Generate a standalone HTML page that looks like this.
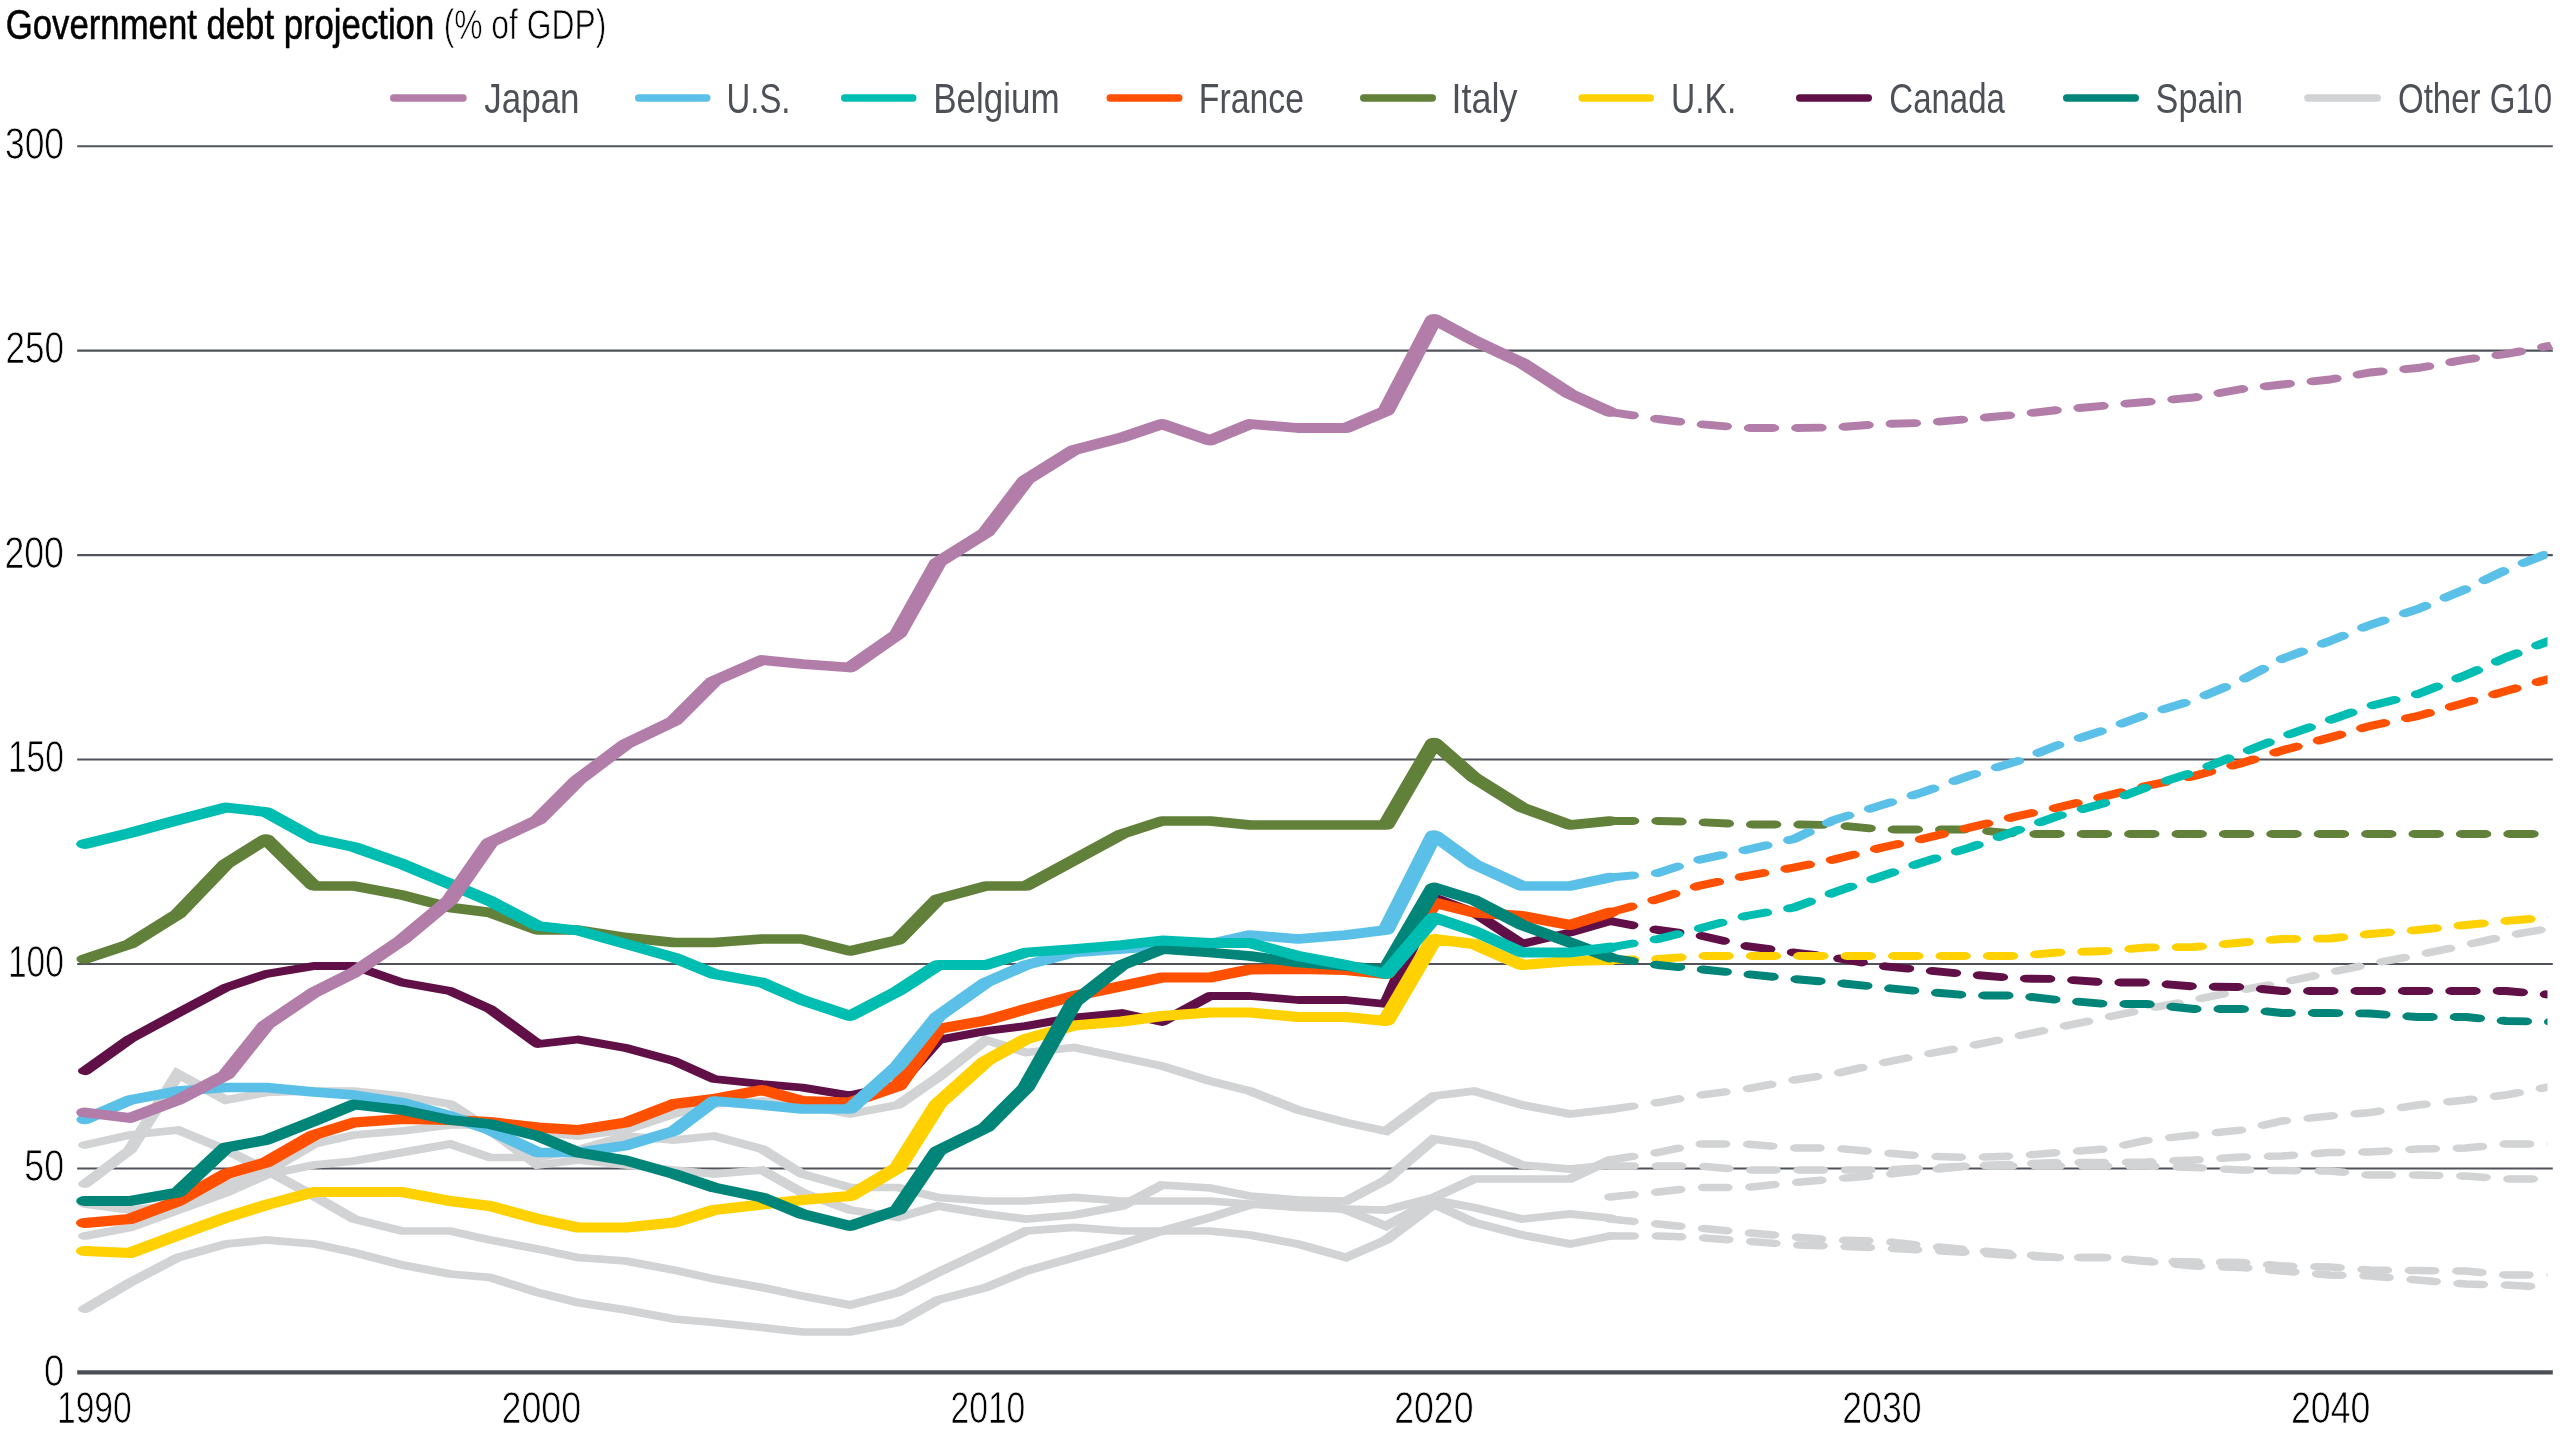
<!DOCTYPE html>
<html><head><meta charset="utf-8"><title>Government debt projection</title>
<style>
html,body{margin:0;padding:0;background:#fff;}
body{width:2560px;height:1440px;overflow:hidden;font-family:"Liberation Sans",sans-serif;}
svg{display:block;position:absolute;left:0;top:0;}
text{font-family:"Liberation Sans",sans-serif;}
</style></head><body>
<svg width="2560" height="1440" viewBox="0 0 2560 1440">
<defs><clipPath id="cp"><rect x="0" y="100" width="2547.5" height="1300"/></clipPath>
<clipPath id="cpj"><polygon points="0,100 2527.7,300 2554,350 2554,1400 0,1400"/></clipPath></defs>

<line x1="77.2" x2="2552.8" y1="146.2" y2="146.2" stroke="#50545a" stroke-width="2.1"/>
<line x1="77.2" x2="2552.8" y1="350.65" y2="350.65" stroke="#50545a" stroke-width="2.1"/>
<line x1="77.2" x2="2552.8" y1="555.1" y2="555.1" stroke="#50545a" stroke-width="2.1"/>
<line x1="77.2" x2="2552.8" y1="759.55" y2="759.55" stroke="#50545a" stroke-width="2.1"/>
<line x1="77.2" x2="2552.8" y1="964.0" y2="964.0" stroke="#50545a" stroke-width="2.1"/>
<line x1="77.2" x2="2552.8" y1="1168.45" y2="1168.45" stroke="#50545a" stroke-width="2.1"/>
<g clip-path="url(#cp)" fill="none" stroke-linecap="round" stroke-linejoin="round">
<polyline transform="scale(1.55,1)" points="1038.71,1236.00 1069.68,1236.00 1095.48,1237.50 1126.45,1241.00 1157.42,1245.00 1183.23,1246.00 1214.19,1248.00 1240.00,1250.00 1270.97,1252.50 1301.94,1256.00 1327.74,1257.50 1358.71,1257.50 1384.52,1261.50 1415.48,1266.00 1446.45,1267.50 1472.26,1271.00 1503.23,1275.00 1529.03,1276.00 1560.00,1280.00 1590.97,1284.00 1616.77,1285.00 1647.74,1287.50" stroke="#d1d3d4" stroke-width="7.5" stroke-dasharray="15 15.58" stroke-linejoin="miter" stroke-miterlimit="6"/>
<polyline transform="scale(1.8,1)" points="47.22,1145.00 72.22,1135.00 98.89,1130.00 125.56,1150.00 147.78,1170.00 174.44,1196.00 196.67,1219.00 223.33,1231.00 250.00,1231.00 272.22,1240.00 298.89,1249.00 321.11,1257.50 347.78,1261.00 374.44,1270.00 396.67,1279.00 423.33,1287.50 445.56,1296.00 472.22,1305.00 498.89,1292.50 521.11,1272.50 547.78,1250.00 570.00,1231.00 596.67,1227.50 623.33,1231.00 645.56,1231.00 672.22,1231.00 694.44,1235.00 721.11,1244.00 747.78,1257.50 770.00,1240.00 796.67,1204.00 818.89,1222.50 845.56,1235.00 872.22,1244.00 894.44,1236.00" stroke="#d1d3d4" stroke-width="7.7" stroke-linejoin="miter" stroke-miterlimit="6"/>
<polyline transform="scale(1.55,1)" points="1038.71,1219.00 1069.68,1224.00 1095.48,1228.00 1126.45,1232.50 1157.42,1237.00 1183.23,1240.00 1214.19,1241.00 1240.00,1245.50 1270.97,1250.00 1301.94,1254.00 1327.74,1257.50 1358.71,1257.50 1384.52,1261.00 1415.48,1262.00 1446.45,1262.50 1472.26,1266.00 1503.23,1267.00 1529.03,1270.00 1560.00,1270.50 1590.97,1271.00 1616.77,1275.00 1647.74,1275.00" stroke="#d1d3d4" stroke-width="7.5" stroke-dasharray="15 15.58" stroke-linejoin="miter" stroke-miterlimit="6"/>
<polyline transform="scale(1.8,1)" points="47.22,1184.00 72.22,1150.00 98.89,1074.00 125.56,1100.00 147.78,1092.50 174.44,1091.00 196.67,1091.00 223.33,1096.00 250.00,1104.00 272.22,1130.00 298.89,1165.00 321.11,1160.00 347.78,1165.00 374.44,1170.00 396.67,1174.00 423.33,1170.00 445.56,1192.50 472.22,1210.00 498.89,1217.50 521.11,1206.00 547.78,1214.00 570.00,1219.00 596.67,1215.00 623.33,1206.00 645.56,1185.00 672.22,1188.00 694.44,1196.00 721.11,1200.00 747.78,1210.00 770.00,1226.00 796.67,1200.00 818.89,1207.50 845.56,1219.00 872.22,1214.00 894.44,1218.00" stroke="#d1d3d4" stroke-width="7.7" stroke-linejoin="miter" stroke-miterlimit="6"/>
<polyline transform="scale(1.55,1)" points="1038.71,1109.50 1069.68,1102.50 1095.48,1095.50 1126.45,1089.00 1157.42,1080.00 1183.23,1074.00 1214.19,1063.00 1240.00,1055.00 1270.97,1046.00 1301.94,1036.00 1327.74,1027.50 1358.71,1017.50 1384.52,1009.00 1415.48,1000.00 1446.45,990.00 1472.26,982.50 1503.23,972.50 1529.03,964.00 1560.00,955.00 1590.97,945.00 1616.77,936.00 1647.74,927.50" stroke="#d1d3d4" stroke-width="7.5" stroke-dasharray="15 15.58" stroke-linejoin="miter" stroke-miterlimit="6"/>
<polyline transform="scale(1.8,1)" points="47.22,1204.00 72.22,1210.00 98.89,1205.00 125.56,1185.00 147.78,1172.00 174.44,1144.00 196.67,1135.00 223.33,1131.00 250.00,1125.00 272.22,1125.00 298.89,1132.00 321.11,1136.00 347.78,1130.00 374.44,1114.00 396.67,1104.00 423.33,1101.00 445.56,1105.00 472.22,1114.00 498.89,1105.00 521.11,1077.50 547.78,1040.00 570.00,1052.50 596.67,1047.50 623.33,1057.50 645.56,1066.00 672.22,1081.00 694.44,1091.00 721.11,1110.00 747.78,1122.50 770.00,1131.00 796.67,1096.00 818.89,1091.00 845.56,1105.00 872.22,1114.00 894.44,1109.50" stroke="#d1d3d4" stroke-width="7.7" stroke-linejoin="miter" stroke-miterlimit="6"/>
<polyline transform="scale(1.55,1)" points="1038.71,1160.00 1069.68,1152.50 1095.48,1144.00 1126.45,1144.00 1157.42,1148.00 1183.23,1148.00 1214.19,1152.50 1240.00,1156.00 1270.97,1157.50 1301.94,1156.00 1327.74,1152.50 1358.71,1149.00 1384.52,1140.50 1415.48,1135.00 1446.45,1130.00 1472.26,1121.00 1503.23,1116.00 1529.03,1112.50 1560.00,1105.00 1590.97,1100.00 1616.77,1095.00 1647.74,1086.00" stroke="#d1d3d4" stroke-width="7.5" stroke-dasharray="15 15.58" stroke-linejoin="miter" stroke-miterlimit="6"/>
<polyline transform="scale(1.8,1)" points="47.22,1236.00 72.22,1227.50 98.89,1210.00 125.56,1192.50 147.78,1175.00 174.44,1165.00 196.67,1161.00 223.33,1152.50 250.00,1144.00 272.22,1157.50 298.89,1157.50 321.11,1150.00 347.78,1136.00 374.44,1140.00 396.67,1136.00 423.33,1149.00 445.56,1174.00 472.22,1187.50 498.89,1187.50 521.11,1197.50 547.78,1201.00 570.00,1201.00 596.67,1197.50 623.33,1201.00 645.56,1201.00 672.22,1201.00 694.44,1204.00 721.11,1207.50 747.78,1209.00 770.00,1210.00 796.67,1197.50 818.89,1179.00 845.56,1179.00 872.22,1179.00 894.44,1160.00" stroke="#d1d3d4" stroke-width="7.7" stroke-linejoin="miter" stroke-miterlimit="6"/>
<polyline transform="scale(1.55,1)" points="1038.71,1166.00 1069.68,1166.00 1095.48,1166.00 1126.45,1170.00 1157.42,1170.00 1183.23,1170.00 1214.19,1170.00 1240.00,1168.00 1270.97,1166.00 1301.94,1166.00 1327.74,1166.00 1358.71,1166.00 1384.52,1166.00 1415.48,1167.50 1446.45,1170.00 1472.26,1170.50 1503.23,1171.00 1529.03,1175.00 1560.00,1175.00 1590.97,1176.00 1616.77,1179.00 1647.74,1179.00" stroke="#d1d3d4" stroke-width="7.5" stroke-dasharray="15 15.58" stroke-linejoin="miter" stroke-miterlimit="6"/>
<polyline transform="scale(1.8,1)" points="47.22,1309.00 72.22,1282.50 98.89,1257.50 125.56,1244.00 147.78,1240.00 174.44,1244.00 196.67,1252.50 223.33,1265.00 250.00,1274.00 272.22,1277.50 298.89,1292.50 321.11,1302.50 347.78,1310.00 374.44,1319.00 396.67,1322.50 423.33,1327.50 445.56,1332.00 472.22,1332.00 498.89,1322.50 521.11,1300.00 547.78,1287.50 570.00,1271.00 596.67,1257.50 623.33,1244.00 645.56,1231.00 672.22,1217.50 694.44,1205.00 721.11,1200.00 747.78,1201.00 770.00,1180.00 796.67,1139.00 818.89,1145.00 845.56,1165.00 872.22,1169.00 894.44,1165.00" stroke="#d1d3d4" stroke-width="7.7" stroke-linejoin="miter" stroke-miterlimit="6"/>
<polyline transform="scale(1.55,1)" points="1038.71,1197.00 1069.68,1192.00 1095.48,1187.50 1126.45,1187.50 1157.42,1182.50 1183.23,1179.00 1214.19,1175.00 1240.00,1170.50 1270.97,1166.00 1301.94,1164.00 1327.74,1162.50 1358.71,1162.50 1384.52,1162.00 1415.48,1160.00 1446.45,1157.00 1472.26,1156.00 1503.23,1152.50 1529.03,1152.00 1560.00,1149.00 1590.97,1148.00 1616.77,1144.00 1647.74,1144.00" stroke="#d1d3d4" stroke-width="7.5" stroke-dasharray="15 15.58" stroke-linejoin="miter" stroke-miterlimit="6"/>
<polyline transform="scale(1.55,1)" points="1038.71,921.00 1069.68,930.00 1095.48,935.00 1126.45,946.00 1157.42,952.50 1183.23,957.50 1214.19,966.00 1240.00,970.00 1270.97,974.50 1301.94,978.50 1327.74,979.00 1358.71,982.50 1384.52,982.50 1415.48,986.50 1446.45,987.00 1472.26,991.00 1503.23,991.00 1529.03,991.00 1560.00,991.00 1590.97,991.00 1616.77,991.00 1647.74,995.00" stroke="#601046" stroke-width="7.9" stroke-dasharray="15 15.58"/>
<polyline transform="scale(1.8,1)" points="47.22,1071.00 72.22,1039.00 98.89,1013.00 125.56,987.50 147.78,974.00 174.44,966.00 196.67,966.00 223.33,982.50 250.00,991.00 272.22,1009.00 298.89,1044.00 321.11,1039.50 347.78,1048.00 374.44,1061.00 396.67,1079.00 423.33,1084.00 445.56,1087.50 472.22,1095.50 498.89,1085.00 521.11,1040.00 547.78,1031.00 570.00,1026.00 596.67,1017.50 623.33,1013.00 645.56,1022.00 672.22,996.00 694.44,996.00 721.11,1000.00 747.78,1000.00 770.00,1004.00 796.67,897.50 818.89,912.50 845.56,944.00 872.22,932.50 894.44,921.00" stroke="#601046" stroke-width="7.8"/>
<polyline transform="scale(1.55,1)" points="1038.71,960.00 1069.68,959.00 1095.48,956.00 1126.45,956.00 1157.42,956.00 1183.23,956.00 1214.19,956.00 1240.00,956.00 1270.97,956.00 1301.94,956.00 1327.74,952.50 1358.71,951.00 1384.52,947.50 1415.48,947.00 1446.45,942.50 1472.26,939.00 1503.23,938.50 1529.03,934.00 1560.00,930.00 1590.97,925.00 1616.77,921.00 1647.74,917.00" stroke="#ffd100" stroke-width="7.9" stroke-dasharray="15 15.58"/>
<polyline transform="scale(1.8,1)" points="47.22,1251.00 72.22,1253.00 98.89,1235.00 125.56,1217.50 147.78,1205.00 174.44,1192.00 196.67,1192.00 223.33,1192.00 250.00,1201.00 272.22,1206.00 298.89,1219.00 321.11,1227.50 347.78,1227.50 374.44,1222.50 396.67,1210.00 423.33,1204.50 445.56,1200.00 472.22,1196.00 498.89,1167.50 521.11,1104.00 547.78,1061.00 570.00,1039.00 596.67,1025.50 623.33,1021.50 645.56,1016.00 672.22,1012.50 694.44,1012.50 721.11,1017.00 747.78,1017.00 770.00,1021.00 796.67,939.00 818.89,944.00 845.56,965.00 872.22,961.00 894.44,960.00" stroke="#ffd100" stroke-width="10.1"/>
<polyline transform="scale(1.55,1)" points="1038.71,821.00 1069.68,821.00 1095.48,822.00 1126.45,824.50 1157.42,824.50 1183.23,825.00 1214.19,829.50 1240.00,829.50 1270.97,829.50 1301.94,834.00 1327.74,834.00 1358.71,834.00 1384.52,834.00 1415.48,834.00 1446.45,834.00 1472.26,834.00 1503.23,834.00 1529.03,834.00 1560.00,834.00 1590.97,834.00 1616.77,834.00 1647.74,834.00" stroke="#61803a" stroke-width="7.9" stroke-dasharray="15 15.58"/>
<polyline transform="scale(1.8,1)" points="47.22,959.00 72.22,944.00 98.89,914.00 125.56,864.00 147.78,839.00 174.44,886.00 196.67,886.00 223.33,895.00 250.00,907.50 272.22,912.50 298.89,930.00 321.11,930.00 347.78,937.50 374.44,942.50 396.67,942.50 423.33,939.00 445.56,939.00 472.22,951.00 498.89,940.00 521.11,899.00 547.78,886.00 570.00,886.00 596.67,860.00 623.33,834.00 645.56,821.00 672.22,821.00 694.44,825.00 721.11,825.00 747.78,825.00 770.00,825.00 796.67,742.50 818.89,777.50 845.56,807.50 872.22,825.00 894.44,821.00" stroke="#61803a" stroke-width="9.5"/>
<polyline transform="scale(1.55,1)" points="1038.71,912.50 1069.68,899.00 1095.48,886.00 1126.45,876.00 1157.42,867.50 1183.23,859.50 1214.19,847.50 1240.00,839.00 1270.97,827.50 1301.94,816.00 1327.74,807.50 1358.71,796.00 1384.52,786.00 1415.48,776.00 1446.45,763.00 1472.26,750.50 1503.23,737.50 1529.03,726.00 1560.00,716.00 1590.97,702.50 1616.77,691.00 1647.74,677.50" stroke="#ff5000" stroke-width="7.9" stroke-dasharray="15 15.58"/>
<polyline transform="scale(1.8,1)" points="47.22,1223.00 72.22,1219.00 98.89,1201.00 125.56,1174.00 147.78,1162.50 174.44,1135.00 196.67,1122.50 223.33,1119.00 250.00,1120.00 272.22,1122.00 298.89,1127.50 321.11,1130.00 347.78,1122.50 374.44,1104.00 396.67,1099.00 423.33,1090.00 445.56,1101.00 472.22,1102.50 498.89,1086.00 521.11,1029.00 547.78,1020.50 570.00,1009.00 596.67,996.00 623.33,986.00 645.56,977.50 672.22,977.50 694.44,969.50 721.11,969.00 747.78,970.00 770.00,974.00 796.67,902.50 818.89,912.50 845.56,916.00 872.22,925.00 894.44,912.50" stroke="#ff5000" stroke-width="10.0"/>
<polyline transform="scale(1.55,1)" points="1038.71,877.50 1069.68,873.00 1095.48,860.00 1126.45,850.00 1157.42,839.00 1183.23,820.00 1214.19,805.00 1240.00,792.50 1270.97,775.50 1301.94,761.00 1327.74,745.00 1358.71,729.50 1384.52,714.50 1415.48,700.00 1446.45,680.00 1472.26,659.00 1503.23,641.00 1529.03,625.00 1560.00,609.00 1590.97,589.00 1616.77,570.00 1647.74,551.00" stroke="#5bc0e8" stroke-width="7.9" stroke-dasharray="15 15.58"/>
<polyline transform="scale(1.8,1)" points="47.22,1119.50 72.22,1100.00 98.89,1091.00 125.56,1087.50 147.78,1087.50 174.44,1092.00 196.67,1095.00 223.33,1102.50 250.00,1116.00 272.22,1130.00 298.89,1152.50 321.11,1152.50 347.78,1145.50 374.44,1131.00 396.67,1101.00 423.33,1105.00 445.56,1109.00 472.22,1109.00 498.89,1066.00 521.11,1016.50 547.78,982.50 570.00,965.00 596.67,952.50 623.33,949.00 645.56,946.00 672.22,944.00 694.44,935.00 721.11,939.00 747.78,935.00 770.00,930.00 796.67,835.00 818.89,864.00 845.56,886.00 872.22,886.00 894.44,877.50" stroke="#5bc0e8" stroke-width="9.6"/>
<polyline transform="scale(1.55,1)" points="1038.71,957.50 1069.68,965.00 1095.48,969.00 1126.45,974.00 1157.42,979.00 1183.23,982.50 1214.19,987.50 1240.00,991.50 1270.97,995.50 1301.94,995.50 1327.74,1000.00 1358.71,1004.00 1384.52,1004.00 1415.48,1009.00 1446.45,1009.00 1472.26,1013.00 1503.23,1013.00 1529.03,1013.50 1560.00,1017.00 1590.97,1017.00 1616.77,1021.00 1647.74,1022.00" stroke="#008578" stroke-width="7.9" stroke-dasharray="15 15.58"/>
<polyline transform="scale(1.8,1)" points="47.22,1201.00 72.22,1201.00 98.89,1192.50 125.56,1147.50 147.78,1140.00 174.44,1121.00 196.67,1104.50 223.33,1110.00 250.00,1120.00 272.22,1124.00 298.89,1136.00 321.11,1152.50 347.78,1160.50 374.44,1174.00 396.67,1187.50 423.33,1197.50 445.56,1214.00 472.22,1226.00 498.89,1210.00 521.11,1151.00 547.78,1127.50 570.00,1087.50 596.67,1002.50 623.33,965.00 645.56,949.00 672.22,952.50 694.44,956.00 721.11,962.50 747.78,966.00 770.00,970.00 796.67,887.50 818.89,900.00 845.56,925.00 872.22,942.50 894.44,957.50" stroke="#008578" stroke-width="9.8"/>
<polyline transform="scale(1.55,1)" points="1038.71,947.50 1069.68,939.00 1095.48,929.00 1126.45,916.00 1157.42,907.50 1183.23,892.50 1214.19,876.00 1240.00,862.50 1270.97,847.50 1301.94,830.00 1327.74,816.00 1358.71,802.50 1384.52,787.50 1415.48,772.00 1446.45,753.00 1472.26,737.00 1503.23,720.00 1529.03,706.00 1560.00,694.00 1590.97,675.00 1616.77,657.50 1647.74,639.00" stroke="#00bdb2" stroke-width="7.9" stroke-dasharray="15 15.58"/>
<polyline transform="scale(1.8,1)" points="47.22,844.00 72.22,833.00 98.89,820.00 125.56,807.50 147.78,812.00 174.44,838.50 196.67,847.00 223.33,864.00 250.00,884.00 272.22,901.00 298.89,926.00 321.11,930.50 347.78,944.00 374.44,957.50 396.67,974.00 423.33,982.50 445.56,1000.00 472.22,1016.00 498.89,991.00 521.11,965.00 547.78,965.00 570.00,952.50 596.67,949.00 623.33,945.00 645.56,940.50 672.22,943.00 694.44,943.00 721.11,956.00 747.78,965.00 770.00,974.00 796.67,917.50 818.89,931.00 845.56,952.50 872.22,952.50 894.44,947.50" stroke="#00bdb2" stroke-width="9.8"/>
</g><g clip-path="url(#cpj)" fill="none" stroke-linecap="round" stroke-linejoin="round">
<polyline transform="scale(1.55,1)" points="1038.71,412.00 1069.68,419.00 1095.48,424.00 1126.45,428.00 1157.42,428.00 1183.23,427.50 1214.19,424.00 1240.00,423.00 1270.97,419.00 1301.94,414.50 1327.74,410.00 1358.71,405.50 1384.52,402.00 1415.48,397.50 1446.45,389.00 1472.26,384.50 1503.23,379.50 1529.03,372.50 1560.00,368.00 1590.97,359.50 1616.77,354.00 1647.74,345.00" stroke="#b27da9" stroke-width="7.9" stroke-dasharray="15 15.58"/>
<polyline transform="scale(1.8,1)" points="47.22,1112.50 72.22,1118.00 98.89,1100.00 125.56,1075.00 147.78,1025.00 174.44,992.50 196.67,972.50 223.33,940.00 250.00,900.00 272.22,842.50 298.89,820.00 321.11,780.00 347.78,744.00 374.44,721.00 396.67,681.00 423.33,660.00 445.56,664.00 472.22,667.50 498.89,634.00 521.11,562.50 547.78,532.50 570.00,480.00 596.67,450.00 623.33,437.50 645.56,424.00 672.22,440.50 694.44,424.00 721.11,428.00 747.78,428.00 770.00,411.00 796.67,319.00 818.89,340.50 845.56,363.00 872.22,394.00 894.44,412.00" stroke="#b27da9" stroke-width="9.8"/>
</g>
<line x1="77.2" x2="2552.8" y1="1372.4" y2="1372.4" stroke="#4b4f55" stroke-width="4.2"/>
<line x1="393.65" x2="463.05" y1="98" y2="98" stroke="#b27da9" stroke-width="7.3" stroke-linecap="round"/>
<line x1="638.65" x2="706.85" y1="98" y2="98" stroke="#5bc0e8" stroke-width="7.3" stroke-linecap="round"/>
<line x1="844.65" x2="912.85" y1="98" y2="98" stroke="#00bdb2" stroke-width="7.3" stroke-linecap="round"/>
<line x1="1110.15" x2="1178.85" y1="98" y2="98" stroke="#ff5000" stroke-width="7.3" stroke-linecap="round"/>
<line x1="1363.65" x2="1432.35" y1="98" y2="98" stroke="#61803a" stroke-width="7.3" stroke-linecap="round"/>
<line x1="1582.15" x2="1650.35" y1="98" y2="98" stroke="#ffd100" stroke-width="7.3" stroke-linecap="round"/>
<line x1="1799.65" x2="1868.35" y1="98" y2="98" stroke="#601046" stroke-width="7.3" stroke-linecap="round"/>
<line x1="2066.65" x2="2135.35" y1="98" y2="98" stroke="#008578" stroke-width="7.3" stroke-linecap="round"/>
<line x1="2307.85" x2="2377.35" y1="98" y2="98" stroke="#d1d3d4" stroke-width="7.3" stroke-linecap="round"/>
</svg>
<svg width="2560" height="1440" viewBox="0 0 2560 1440" style="will-change:transform">
<text x="5.82" y="38.75" font-size="42.6" textLength="428.4" lengthAdjust="spacingAndGlyphs" fill="#000" stroke="#000" stroke-width="0.55">Government debt projection</text>
<text x="443.66" y="38.75" font-size="42.6" textLength="162.59" lengthAdjust="spacingAndGlyphs" fill="#000" stroke="#fff" stroke-width="0.75">(% of GDP)</text>
<text x="4.95" y="158.9" font-size="43.9" textLength="59.09" lengthAdjust="spacingAndGlyphs" fill="#000" stroke="#fff" stroke-width="0.75">300</text>
<text x="5.51" y="363.35" font-size="43.9" textLength="58.41" lengthAdjust="spacingAndGlyphs" fill="#000" stroke="#fff" stroke-width="0.75">250</text>
<text x="4.57" y="567.8" font-size="43.9" textLength="59.31" lengthAdjust="spacingAndGlyphs" fill="#000" stroke="#fff" stroke-width="0.75">200</text>
<text x="7.96" y="772.25" font-size="43.9" textLength="55.84" lengthAdjust="spacingAndGlyphs" fill="#000" stroke="#fff" stroke-width="0.75">150</text>
<text x="7.96" y="976.7" font-size="43.9" textLength="55.84" lengthAdjust="spacingAndGlyphs" fill="#000" stroke="#fff" stroke-width="0.75">100</text>
<text x="24.27" y="1181.15" font-size="43.9" textLength="39.73" lengthAdjust="spacingAndGlyphs" fill="#000" stroke="#fff" stroke-width="0.75">50</text>
<text x="44.0" y="1385.55" font-size="43.9" textLength="20.22" lengthAdjust="spacingAndGlyphs" fill="#000" stroke="#fff" stroke-width="0.75">0</text>
<text x="57.03" y="1423.2" font-size="43.9" textLength="74.63" lengthAdjust="spacingAndGlyphs" fill="#000" stroke="#fff" stroke-width="0.75">1990</text>
<text x="501.54" y="1423.2" font-size="43.9" textLength="79.63" lengthAdjust="spacingAndGlyphs" fill="#000" stroke="#fff" stroke-width="0.75">2000</text>
<text x="950.48" y="1423.2" font-size="43.9" textLength="74.83" lengthAdjust="spacingAndGlyphs" fill="#000" stroke="#fff" stroke-width="0.75">2010</text>
<text x="1394.32" y="1423.2" font-size="43.9" textLength="79.12" lengthAdjust="spacingAndGlyphs" fill="#000" stroke="#fff" stroke-width="0.75">2020</text>
<text x="1842.22" y="1423.2" font-size="43.9" textLength="79.47" lengthAdjust="spacingAndGlyphs" fill="#000" stroke="#fff" stroke-width="0.75">2030</text>
<text x="2290.98" y="1423.2" font-size="43.9" textLength="79.35" lengthAdjust="spacingAndGlyphs" fill="#000" stroke="#fff" stroke-width="0.75">2040</text>
<text x="484.3" y="113.0" font-size="43.3" textLength="95.23" lengthAdjust="spacingAndGlyphs" fill="#4d5157" >Japan</text>
<text x="726.5" y="113.0" font-size="43.3" textLength="63.95" lengthAdjust="spacingAndGlyphs" fill="#4d5157" >U.S.</text>
<text x="933.19" y="113.0" font-size="43.3" textLength="126.52" lengthAdjust="spacingAndGlyphs" fill="#4d5157" >Belgium</text>
<text x="1198.85" y="113.0" font-size="43.3" textLength="105.11" lengthAdjust="spacingAndGlyphs" fill="#4d5157" >France</text>
<text x="1451.6" y="113.0" font-size="43.3" textLength="65.92" lengthAdjust="spacingAndGlyphs" fill="#4d5157" >Italy</text>
<text x="1670.89" y="113.0" font-size="43.3" textLength="65.42" lengthAdjust="spacingAndGlyphs" fill="#4d5157" >U.K.</text>
<text x="1889.36" y="113.0" font-size="43.3" textLength="115.48" lengthAdjust="spacingAndGlyphs" fill="#4d5157" >Canada</text>
<text x="2155.6" y="113.0" font-size="43.3" textLength="87.53" lengthAdjust="spacingAndGlyphs" fill="#4d5157" >Spain</text>
<text x="2398.03" y="113.0" font-size="43.3" textLength="154.11" lengthAdjust="spacingAndGlyphs" fill="#4d5157" >Other G10</text>
</svg></body></html>
